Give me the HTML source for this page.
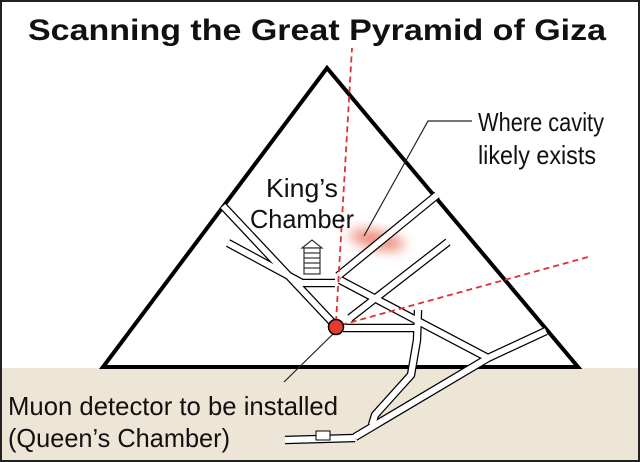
<!DOCTYPE html>
<html><head><meta charset="utf-8"><style>
html,body{margin:0;padding:0;background:#fff}
svg{display:block}
text{font-family:"Liberation Sans",sans-serif;fill:#111}
</style></head><body>
<svg width="640" height="462" viewBox="0 0 640 462" xmlns="http://www.w3.org/2000/svg">
<defs>
<filter id="b" x="-50%" y="-50%" width="200%" height="200%"><feGaussianBlur stdDeviation="6"/></filter>
</defs>
<rect x="0" y="0" width="640" height="462" fill="#fff"/>
<rect x="0" y="368" width="640" height="94" fill="#ede5d6"/>
<text x="317" y="40" font-size="30" font-weight="bold" text-anchor="middle" textLength="578" lengthAdjust="spacingAndGlyphs">Scanning the Great Pyramid of Giza</text>
<polygon points="327,68 103,367 578,367" fill="#fff" stroke="#000" stroke-width="4" stroke-linejoin="miter"/>
<ellipse cx="377" cy="240" rx="28" ry="9" fill="#e8705a" opacity="0.8" filter="url(#b)" transform="rotate(12 377 240)"/>
<g fill="none" stroke-linejoin="round" stroke-linecap="butt">
<g stroke="#000" stroke-width="8.5">
<polyline points="223,206 332,322"/>
<polyline points="228,243 302,283 335,283"/>
<polyline points="437,195 338,276"/>
<polyline points="448,242 350,318"/>
<polyline points="340,280 488,358"/>
<polyline points="546,331 488,358 355,437"/>
<polyline points="343,328 416,328"/>
<polyline points="418,310 417,340 411,375 375,415 372,425"/>
<polyline points="285,440 355,438"/>
</g>
<g stroke="#fff" stroke-width="6">
<polyline points="223,206 332,322"/>
<polyline points="228,243 302,283 335,283"/>
<polyline points="437,195 338,276"/>
<polyline points="448,242 350,318"/>
<polyline points="340,280 488,358"/>
<polyline points="546,331 488,358 355,437"/>
<polyline points="343,328 416,328"/>
<polyline points="418,310 417,340 411,375 375,415 372,425"/>
<polyline points="285,440 355,438"/>
</g>
</g>
<rect x="316" y="431" width="14" height="9" fill="#fff" stroke="#000" stroke-width="1"/>
<g stroke="#333" stroke-width="1.2" fill="#fff">
<polygon points="302,248 312,240 322,248"/>
<rect x="304" y="248" width="16" height="26"/>
<line x1="304" y1="253" x2="320" y2="253"/>
<line x1="304" y1="258" x2="320" y2="258"/>
<line x1="304" y1="263" x2="320" y2="263"/>
<line x1="304" y1="268" x2="320" y2="268"/>
</g>
<polyline points="364,236 428,121 472,121" fill="none" stroke="#222" stroke-width="1.2"/>
<line x1="333" y1="334" x2="284" y2="382" stroke="#222" stroke-width="1.2"/>
<g stroke="#e03030" stroke-width="1.8" stroke-dasharray="6,4" fill="none">
<line x1="336" y1="322" x2="352" y2="48"/>
<line x1="341" y1="325" x2="588" y2="257"/>
</g>
<circle cx="336" cy="327" r="7.5" fill="#e53b2f" stroke="#000" stroke-width="1.5"/>
<text x="478" y="131" font-size="26" textLength="126" lengthAdjust="spacingAndGlyphs">Where cavity</text>
<text x="478" y="164" font-size="26" textLength="118" lengthAdjust="spacingAndGlyphs">likely exists</text>
<text x="302" y="197" font-size="26" text-anchor="middle" textLength="72" lengthAdjust="spacingAndGlyphs">King’s</text>
<text x="302" y="228" font-size="26" text-anchor="middle" textLength="104" lengthAdjust="spacingAndGlyphs">Chamber</text>
<text x="8" y="415" font-size="26" textLength="330" lengthAdjust="spacingAndGlyphs">Muon detector to be installed</text>
<text x="8" y="447" font-size="26" textLength="222" lengthAdjust="spacingAndGlyphs">(Queen’s Chamber)</text>
<rect x="1" y="1" width="638" height="460" fill="none" stroke="#222" stroke-width="2"/>
</svg>
</body></html>
